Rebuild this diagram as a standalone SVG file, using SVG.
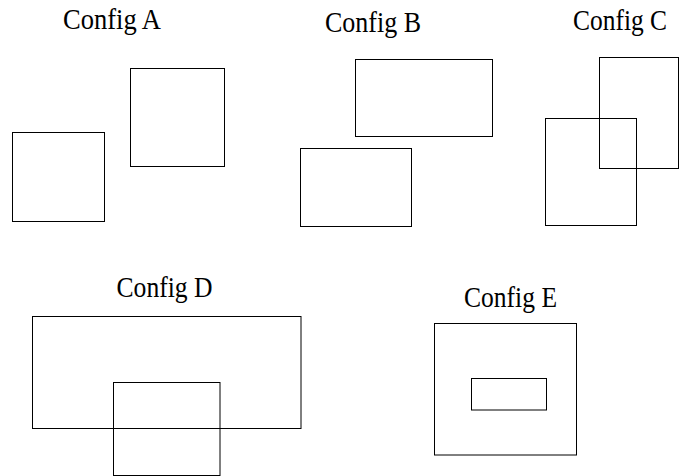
<svg xmlns="http://www.w3.org/2000/svg" width="683" height="476" viewBox="0 0 683 476">
  <style>
    .box { fill: none; stroke: #000; stroke-width: 1; }
    .title { font-size: 30px; fill: #000; }
  </style>
  <rect x="0" y="0" width="683" height="476" fill="#fff"/>

  <!-- Config A: two separate boxes -->
  <g id="config-a">
    <text class="title" font-family="'Liberation Serif', serif" x="63" y="29" textLength="98" lengthAdjust="spacingAndGlyphs">Config A</text>
    <rect class="box" x="12.5" y="132.5" width="92" height="89"/>
    <rect class="box" x="130.5" y="68.5" width="94" height="98"/>
  </g>

  <!-- Config B: two separate wide boxes -->
  <g id="config-b">
    <text class="title" font-family="'Liberation Serif', serif" x="325" y="32" textLength="96" lengthAdjust="spacingAndGlyphs">Config B</text>
    <rect class="box" x="300.5" y="148.5" width="111" height="78"/>
    <rect class="box" x="355.5" y="59.5" width="137" height="77"/>
  </g>

  <!-- Config C: partially overlapping boxes -->
  <g id="config-c">
    <text class="title" font-family="'Liberation Serif', serif" x="573" y="30" textLength="94" lengthAdjust="spacingAndGlyphs">Config C</text>
    <rect class="box" x="599.5" y="57.5" width="79" height="111"/>
    <rect class="box" x="545.5" y="118.5" width="91" height="107"/>
  </g>

  <!-- Config D: small box crossing the bottom edge of a wide box -->
  <g id="config-d">
    <text class="title" font-family="'Liberation Serif', serif" x="116.5" y="297" textLength="96" lengthAdjust="spacingAndGlyphs">Config D</text>
    <rect class="box" x="32.5" y="316.5" width="268.5" height="112"/>
    <rect class="box" x="113.5" y="382.5" width="106.5" height="93"/>
  </g>

  <!-- Config E: small box fully contained in a larger one -->
  <g id="config-e">
    <text class="title" font-family="'Liberation Serif', serif" x="464" y="307" textLength="93" lengthAdjust="spacingAndGlyphs">Config E</text>
    <rect class="box" x="434.5" y="323.5" width="142" height="131.5"/>
    <rect class="box" x="471.5" y="378.5" width="75" height="31.5"/>
  </g>
</svg>
